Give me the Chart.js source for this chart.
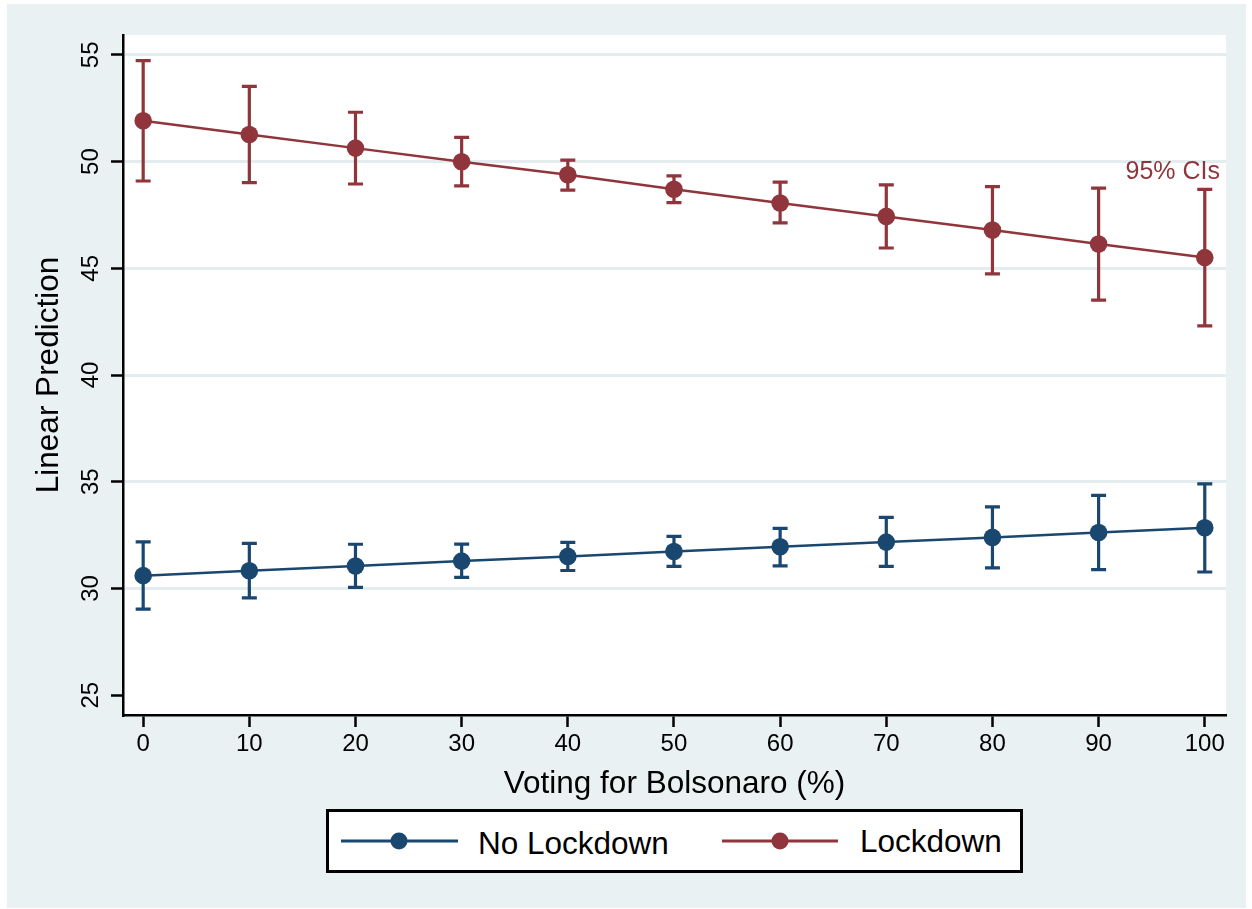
<!DOCTYPE html>
<html>
<head>
<meta charset="utf-8">
<script src="https://cdn.jsdelivr.net/npm/chart.js@4"></script>
<style>
  body { margin: 0; background: #fff; font-family: "Liberation Sans", Arial, sans-serif; }
  #panel { position: absolute; left: 7px; top: 4px; width: 1239px; height: 904px; background: #eaf1f2; }
  #chart { position: absolute; left: 0; top: 0; }
  #legend { position: absolute; left: 326px; top: 809px; width: 697px; height: 64px;
            box-sizing: border-box; border: 3px solid #000; background: #fff; }
  .legtext { position: absolute; font-size: 31.5px; line-height: 31px; color: #000; white-space: nowrap; }
  #legsym { position: absolute; left: 0; top: 0; }
</style>
</head>
<body>
<div id="panel"></div>
<canvas id="chart" width="1252" height="909"></canvas>
<div id="legend"></div>
<svg id="legsym" width="1252" height="909">
  <line x1="341" y1="841" x2="458" y2="841" stroke="#1a476f" stroke-width="3"/>
  <circle cx="399" cy="841" r="8.5" fill="#1a476f"/>
  <line x1="722" y1="841" x2="838" y2="841" stroke="#90353b" stroke-width="3"/>
  <circle cx="780" cy="841" r="8.5" fill="#90353b"/>
</svg>
<span class="legtext" style="left:478px; top:828px;">No Lockdown</span>
<span class="legtext" style="left:860px; top:826px;">Lockdown</span>

<script>
// --- datos ---
const xVals = [0, 10, 20, 30, 40, 50, 60, 70, 80, 90, 100];
const xTicks = [0, 10, 20, 30, 40, 50, 60, 70, 80, 90, 100];
const yTicks = [25, 30, 35, 40, 45, 50, 55];

// No Lockdown
const noLockMean = [30.60, 30.83, 31.05, 31.28, 31.50, 31.73, 31.95, 32.17, 32.39, 32.62, 32.84];
const noLockLo   = [29.03, 29.56, 30.05, 30.52, 30.84, 31.03, 31.06, 31.03, 30.96, 30.88, 30.77];
const noLockHi   = [32.18, 32.11, 32.07, 32.08, 32.16, 32.44, 32.81, 33.33, 33.82, 34.36, 34.90];

// Lockdown
const lockMean = [51.91, 51.27, 50.63, 49.99, 49.38, 48.70, 48.06, 47.43, 46.79, 46.14, 45.50];
const lockLo   = [49.09, 49.01, 48.95, 48.86, 48.66, 48.08, 47.13, 45.95, 44.74, 43.51, 42.30];
const lockHi   = [54.73, 53.52, 52.31, 51.13, 50.07, 49.33, 49.04, 48.91, 48.83, 48.76, 48.70];

const NAVY = '#1a476f';
const MAROON = '#90353b';
const GRID = '#e3ecee';
const FONT = '"Liberation Sans", Arial, sans-serif';

function pts(ys) {
    return xVals.map((x, i) => ({ x: x, y: ys[i] }));
}

// fondo blanco del área de trazado
const plotBg = {
    id: 'plotBg',
    beforeDraw(chart) {
        const a = chart.chartArea, c = chart.ctx;
        c.save();
        c.fillStyle = '#fff';
        c.fillRect(a.left, a.top, a.right - a.left, a.bottom - a.top);
        c.restore();
    }
};

// barras de error (IC 95%) con tapas
const errorBars = {
    id: 'errorBars',
    beforeDatasetsDraw(chart) {
        const c = chart.ctx, xs = chart.scales.x, ys = chart.scales.y;
        const series = [[noLockLo, noLockHi, NAVY], [lockLo, lockHi, MAROON]];
        c.save();
        c.lineWidth = 3.2;
        series.forEach(s => {
            c.strokeStyle = s[2];
            xVals.forEach((xv, i) => {
                const px = xs.getPixelForValue(xv);
                const lo = ys.getPixelForValue(s[0][i]);
                const hi = ys.getPixelForValue(s[1][i]);
                c.beginPath();
                c.moveTo(px, lo); c.lineTo(px, hi);
                c.moveTo(px - 7.5, lo); c.lineTo(px + 7.5, lo);
                c.moveTo(px - 7.5, hi); c.lineTo(px + 7.5, hi);
                c.stroke();
            });
        });
        c.restore();
    }
};

// textos: etiquetas del eje Y giradas, títulos y nota "95% CIs"
const stataText = {
    id: 'stataText',
    afterDraw(chart) {
        const c = chart.ctx, xs = chart.scales.x, ys = chart.scales.y, a = chart.chartArea;
        c.save();
        c.fillStyle = '#000';
        c.textAlign = 'center';
        c.textBaseline = 'alphabetic';
        c.font = '24px ' + FONT;
        yTicks.forEach(v => {
            c.save();
            c.translate(97.5, ys.getPixelForValue(v));
            c.rotate(-Math.PI / 2);
            c.fillText(String(v), 0, 0);
            c.restore();
        });
        c.font = '31.5px ' + FONT;
        c.save();
        c.translate(58, (a.top + a.bottom) / 2);
        c.rotate(-Math.PI / 2);
        c.fillText('Linear Prediction', 0, 0);
        c.restore();
        c.fillText('Voting for Bolsonaro (%)', (a.left + a.right) / 2, 793);
        c.fillStyle = MAROON;
        c.textAlign = 'right';
        c.font = '25px ' + FONT;
        c.fillText('95% CIs', a.right - 6, ys.getPixelForValue(49.6) + 9);
        c.restore();
    }
};

new Chart(document.getElementById('chart'), {
    type: 'line',
    data: {
        datasets: [
            { label: 'No Lockdown', data: pts(noLockMean), borderColor: NAVY, backgroundColor: NAVY,
              borderWidth: 2.5, pointRadius: 8.8, pointBorderWidth: 0, pointBackgroundColor: NAVY, tension: 0 },
            { label: 'Lockdown', data: pts(lockMean), borderColor: MAROON, backgroundColor: MAROON,
              borderWidth: 2.5, pointRadius: 8.8, pointBorderWidth: 0, pointBackgroundColor: MAROON, tension: 0 }
        ]
    },
    options: {
        responsive: false,
        devicePixelRatio: 1,
        animation: false,
        layout: { padding: { top: 35, right: 26, left: 0, bottom: 0 } },
        plugins: { legend: { display: false }, tooltip: { enabled: false } },
        scales: {
            x: {
                type: 'linear', min: -1.9, max: 102,
                afterFit(s) { s.height = 194; },
                afterBuildTicks(s) { s.ticks = xTicks.map(v => ({ value: v })); },
                border: { color: '#000', width: 2.5 },
                grid: { drawOnChartArea: false, drawTicks: true, tickLength: 12, tickColor: '#000', tickWidth: 2.5 },
                ticks: { color: '#000', font: { family: FONT, size: 24 }, padding: 3, maxRotation: 0, minRotation: 0 }
            },
            y: {
                type: 'linear', min: 24.07, max: 55.93,
                afterFit(s) { s.width = 123; },
                afterBuildTicks(s) { s.ticks = yTicks.map(v => ({ value: v })); },
                border: { color: '#000', width: 2.5 },
                grid: {
                    color: c => (c.tick && c.tick.value === 25) ? 'rgba(0,0,0,0)' : GRID,
                    lineWidth: 3, drawTicks: true, tickLength: 12, tickColor: '#000', tickWidth: 2.5
                },
                ticks: { display: false }
            }
        }
    },
    plugins: [plotBg, errorBars, stataText]
});
</script>
</body>
</html>
